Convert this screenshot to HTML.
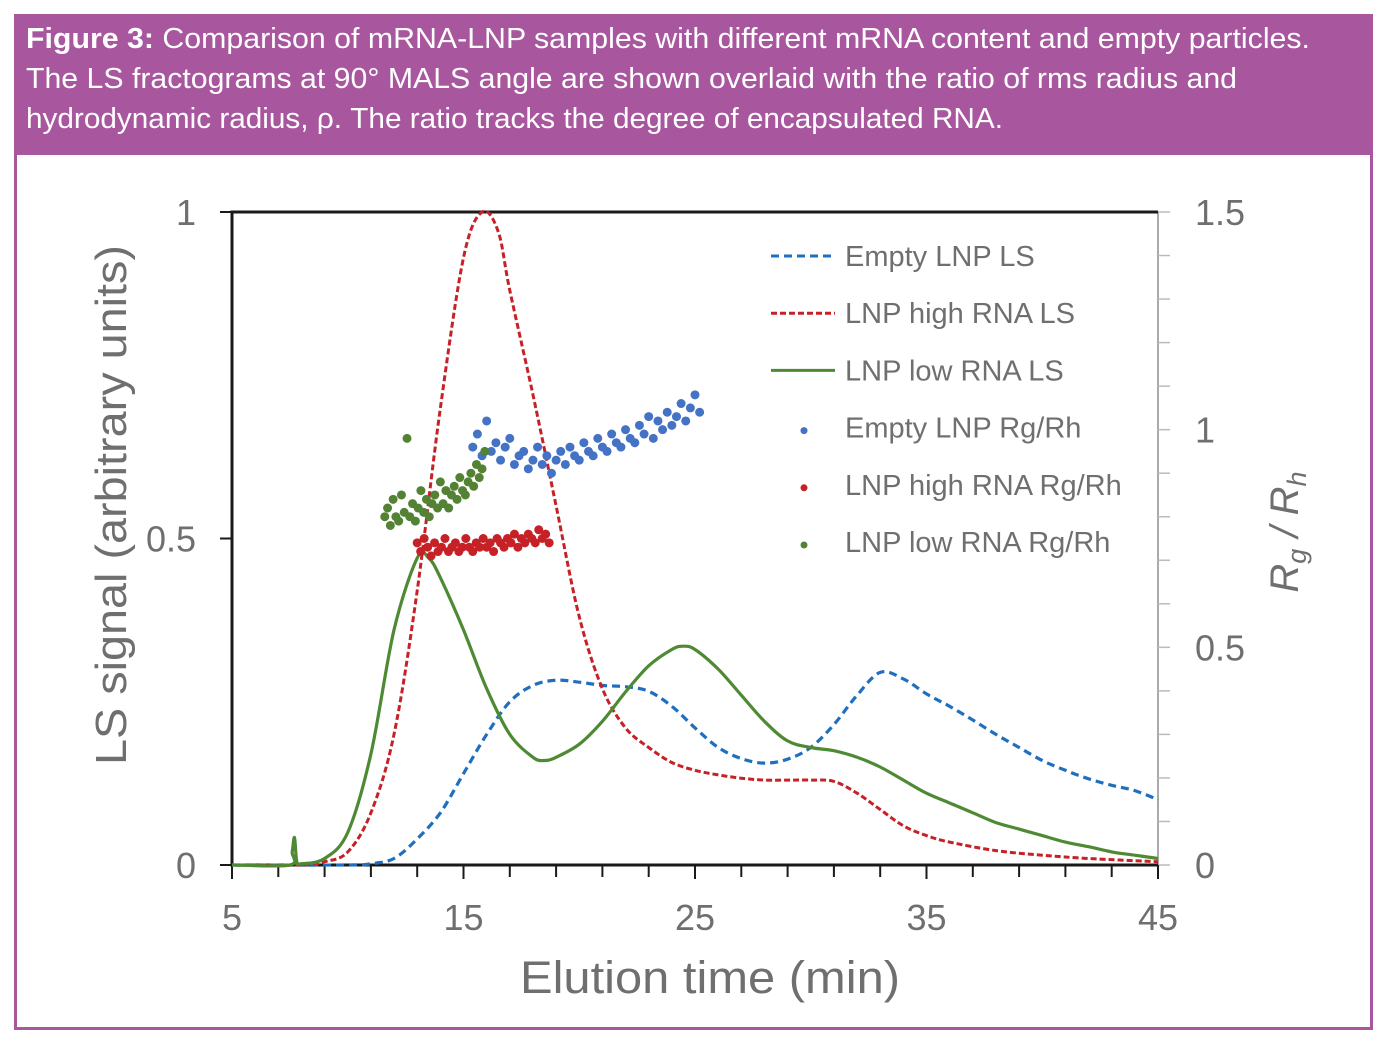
<!DOCTYPE html>
<html><head><meta charset="utf-8"><style>
html,body{margin:0;padding:0;background:#fff;}
svg{display:block;font-family:"Liberation Sans",sans-serif;}
</style></head><body>
<svg id="fig" width="1388" height="1048" viewBox="0 0 1388 1048" xmlns="http://www.w3.org/2000/svg">
<rect x="15.5" y="15.5" width="1356" height="1013" fill="#fff" stroke="#a8579f" stroke-width="3"/>
<rect x="14" y="14" width="1359" height="141" fill="#a8579f"/>
<g fill="#fff" font-size="29">
<text x="26" y="48" textLength="1284" lengthAdjust="spacingAndGlyphs"><tspan font-weight="bold">Figure 3:</tspan> Comparison of mRNA-LNP samples with different mRNA content and empty particles.</text>
<text x="26" y="88" textLength="1211" lengthAdjust="spacingAndGlyphs">The LS fractograms at 90° MALS angle are shown overlaid with the ratio of rms radius and</text>
<text x="26" y="128" textLength="977" lengthAdjust="spacingAndGlyphs">hydrodynamic radius, ρ. The ratio tracks the degree of encapsulated RNA.</text>
</g>
<g id="axes"></g>
<g id="plot"></g>
<g id="legend"></g>
</svg>
<script>
// ---- data ----
const xTicks = [5, 15, 25, 35, 45];
const yLeftTicks = [0, 0.5, 1];
const yLeftLabels = ["0", "0.5", "1"];
const yRightTicks = [0, 0.5, 1, 1.5];
const yRightLabels = ["0", "0.5", "1", "1.5"];

const emptyLsT = [5,10,11,12,13,14,15,16,17,18,19,20,21,22,23,24,25,26,27,28,29,30,31,32,33,34,35,36,37,38,39,40,41,42,43,44,45];
const emptyLsV = [0,0,0.002,0.01,0.04,0.08,0.14,0.2,0.25,0.275,0.283,0.28,0.275,0.273,0.266,0.243,0.21,0.18,0.163,0.156,0.162,0.18,0.215,0.26,0.295,0.285,0.262,0.243,0.222,0.2,0.18,0.16,0.145,0.132,0.122,0.114,0.1];

const highLsT = [5,8,9,10,11,12,13,14,15,15.8,16.5,17,18,19,20,21,22,23,24,25,26,27,28,29,30,31,32,33,34,35,36,38,40,42,45];
const highLsV = [0,0,0.005,0.02,0.08,0.2,0.42,0.7,0.93,1.0,0.97,0.88,0.72,0.55,0.38,0.27,0.21,0.18,0.157,0.145,0.138,0.133,0.13,0.13,0.13,0.128,0.11,0.085,0.06,0.045,0.035,0.022,0.015,0.01,0.005];

const lowLsT = [5,7.5,7.6,7.7,7.8,8,9,10,11,12,13,13.5,14,15,16,17,18,18.5,19,20,21,22,23,24,24.5,25,26,27,28,29,30,31,32,33,34,35,36,37,38,39,40,41,42,43,44,45];
const lowLsV = [0,0,0.02,0.042,0.005,0.002,0.01,0.05,0.17,0.36,0.47,0.47,0.44,0.36,0.27,0.2,0.165,0.16,0.165,0.185,0.22,0.265,0.305,0.33,0.335,0.33,0.3,0.26,0.22,0.19,0.18,0.175,0.165,0.15,0.13,0.11,0.095,0.08,0.065,0.055,0.045,0.035,0.028,0.02,0.015,0.01];

const emptyRgStart = 15.4, emptyRgStep = 0.2;
const emptyRgV = [0.96,0.99,0.94,1.02,0.95,0.97,0.93,0.96,0.98,0.92,
 0.94,0.95,0.91,0.93,0.96,0.92,0.94,0.90,0.93,0.95,
 0.92,0.96,0.94,0.93,0.97,0.95,0.94,0.98,0.96,0.95,
 0.99,0.97,0.96,1.00,0.98,0.97,1.01,0.99,1.03,0.98,
 1.02,1.00,1.04,1.01,1.03,1.06,1.02,1.05,1.08,1.04];
const highRgStart = 13.0, highRgStep = 0.15;
const highRgV = [0.74,0.72,0.75,0.73,0.71,0.74,0.72,0.73,0.75,0.72,0.73,0.74,0.72,0.73,0.75,0.73,0.72,0.74,0.73,0.75,0.73,0.74,0.72,0.75,0.74,0.73,0.75,0.74,0.76,0.73,0.75,0.74,0.76,0.75,0.74,0.77,0.75,0.76,0.74];
const lowRgStart = 11.6, lowRgStep = 0.12;
const lowRgV = [0.80,0.82,0.78,0.84,0.80,0.79,0.85,0.81,0.98,0.80,0.83,0.79,0.82,0.86,0.81,0.84,0.80,0.83,0.85,0.82,0.88,0.83,0.86,0.82,0.85,0.87,0.84,0.89,0.86,0.85,0.88,0.90,0.87,0.92,0.89,0.91,0.95];

// ---- scales ----
const X0=232, X1=1158, Y0=865, Y1=212;
const xs = t => X0 + (t-5)/40*(X1-X0);
const yl = v => Y0 - v*(Y0-Y1);
const yr = v => Y0 - v/1.5*(Y0-Y1);
const NS="http://www.w3.org/2000/svg";
function mk(tag, attrs, parent, txt){
  const e=document.createElementNS(NS,tag);
  for(const k in attrs) e.setAttribute(k, attrs[k]);
  if(txt!==undefined) e.textContent=txt;
  parent.appendChild(e); return e;
}
const axes=document.getElementById('axes'), plot=document.getElementById('plot'), legend=document.getElementById('legend');
const gray="#6f6f6f";

let ra=mk('line',{x1:X1,y1:Y1,x2:X1,y2:Y0,stroke:"#aaa","stroke-width":2},axes);


for(let i=0;i<=15;i++){
  const tk=mk('line',{x1:X1,x2:X1+12,y1:yr(i/10),y2:yr(i/10),stroke:"#bbb","stroke-width":1.5},axes);
  
  
}
yRightTicks.forEach((v,i)=>{
  const t=mk('text',{x:1195,y:yr(v)+13,"font-size":36,fill:gray},axes,yRightLabels[i]);
  
  
});
let fr=mk('path',{d:`M${X1},${Y1} L${X0},${Y1} L${X0},${Y0} L${X1},${Y0}`,fill:"none",stroke:"#1a1a1a","stroke-width":3},axes);


yLeftTicks.forEach((v,i)=>{
  const tk=mk('line',{x1:X0-12,x2:X0,y1:yl(v),y2:yl(v),stroke:"#1a1a1a","stroke-width":2},axes);
  
  
  const t=mk('text',{x:196,y:yl(v)+13,"font-size":36,fill:gray,"text-anchor":"end"},axes,yLeftLabels[i]);
  
  
});
for(let t=5;t<=45;t+=2){
  const tk=mk('line',{x1:xs(t),x2:xs(t),y1:Y0,y2:Y0+12,stroke:"#1a1a1a","stroke-width":2},axes);
  
  
}
xTicks.forEach(v=>{
  const tk=mk('line',{x1:xs(v),x2:xs(v),y1:Y0,y2:Y0+14,stroke:"#1a1a1a","stroke-width":2},axes);
  
  
  const t=mk('text',{x:xs(v),y:930,"font-size":36,fill:gray,"text-anchor":"middle"},axes,String(v));
  
  
});
let xt=mk('text',{x:520,y:993,"font-size":45,fill:gray,textLength:380,lengthAdjust:"spacingAndGlyphs"},axes,"Elution time (min)");


let ylt=mk('text',{x:-765,y:126,"font-size":44,fill:gray,textLength:520,lengthAdjust:"spacingAndGlyphs",transform:"rotate(-90)"},axes,"LS signal (arbitrary units)");


let yrt=mk('text',{x:0,y:0,"font-size":40,fill:gray,"text-anchor":"middle","font-style":"italic",transform:"translate(1298,532) rotate(-90)"},axes);


mk('tspan',{},yrt,"R");
mk('tspan',{"font-size":27,dy:8},yrt,"g");
mk('tspan',{dy:-8},yrt," / R");
mk('tspan',{"font-size":27,dy:8},yrt,"h");

function smoothPath(P){
  let d='M'+P[0][0].toFixed(1)+','+P[0][1].toFixed(1);
  for(let i=0;i<P.length-1;i++){
    const p0=P[Math.max(0,i-1)],p1=P[i],p2=P[i+1],p3=P[Math.min(P.length-1,i+2)];
    const c1x=p1[0]+(p2[0]-p0[0])/6,c1y=p1[1]+(p2[1]-p0[1])/6;
    const c2x=p2[0]-(p3[0]-p1[0])/6,c2y=p2[1]-(p3[1]-p1[1])/6;
    d+=` C${c1x.toFixed(1)},${c1y.toFixed(1)} ${c2x.toFixed(1)},${c2y.toFixed(1)} ${p2[0].toFixed(1)},${p2[1].toFixed(1)}`;
  }
  return d;
}
function line(T,V,color,dash,w,name){
  const P=T.map((t,i)=>[xs(t),yl(V[i])]);
  const p=mk('path',{d:smoothPath(P),fill:"none",stroke:color,"stroke-width":w,"stroke-dasharray":dash,"stroke-linejoin":"round"},plot);
  
  
}
line(emptyLsT,emptyLsV,"#1f6fc0","8,5",3.2,"empty-lnp-ls-line");
line(highLsT,highLsV,"#c62127","6,3",3,"high-rna-ls-line");
line(lowLsT,lowLsV,"#4e8a34","",3.2,"low-rna-ls-line");

function dots(start,step,V,color,name){
  V.forEach((v,i)=>{
    const c=mk('circle',{cx:xs(start+i*step),cy:yr(v),r:4.5,fill:color},plot);
    
    
  });
}
dots(emptyRgStart,emptyRgStep,emptyRgV,"#4472c4","empty-lnp-rg-point");
dots(highRgStart,highRgStep,highRgV,"#c62127","high-rna-rg-point");
dots(lowRgStart,lowRgStep,lowRgV,"#548235","low-rna-rg-point");

const legItems=[
 ["Empty LNP LS","#1f6fc0","8,5","line"],
 ["LNP high RNA LS","#c62127","6,3","line"],
 ["LNP low RNA LS","#4e8a34","","line"],
 ["Empty LNP Rg/Rh","#4472c4","","dot"],
 ["LNP high RNA Rg/Rh","#c62127","","dot"],
 ["LNP low RNA Rg/Rh","#548235","","dot"]];
legItems.forEach((it,i)=>{
  const y=256+i*57.2;
  if(it[3]==="line"){
    const l=mk('line',{x1:771,x2:835,y1:y,y2:y,stroke:it[1],"stroke-width":3,"stroke-dasharray":it[2]},legend);
    
    
  } else {
    const c=mk('circle',{cx:804,cy:y+3,r:3.5,fill:it[1]},legend);
    
    
  }
  const t=mk('text',{x:845,y:y+10,"font-size":29,fill:gray},legend,it[0]);
  
  
});
</script>
</body></html>
